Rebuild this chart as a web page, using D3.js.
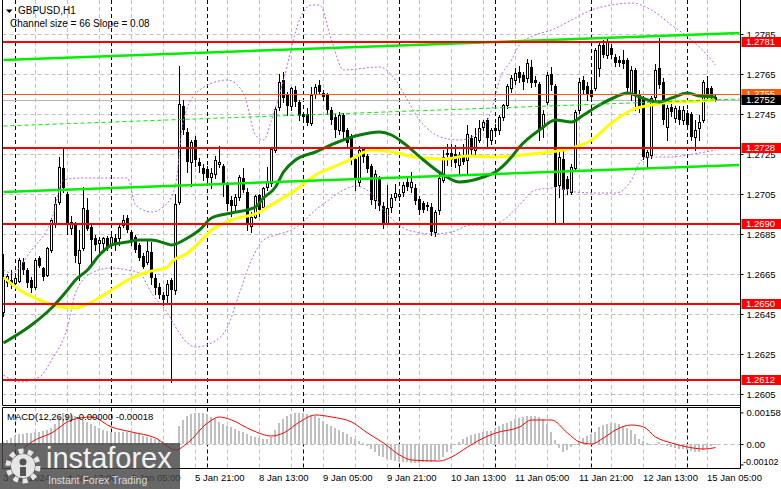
<!DOCTYPE html>
<html><head><meta charset="utf-8">
<script src="https://cdn.jsdelivr.net/npm/d3@7"></script>
<style>
html,body{margin:0;padding:0;background:#fff;}
svg{display:block;font-family:"Liberation Sans",Arial,sans-serif;}
</style></head><body>
<svg id="c" width="781" height="489"></svg>
<script>
// ---------- DATA ----------
const opens=[1.2646,1.2661,1.2662,1.26605,1.26615,1.2671,1.2667,1.2662,1.26585,1.2673,
1.2668,1.26645,1.2677,1.269,1.2701,1.2718,1.2705,1.2688,1.269,1.26705,
1.2678,1.2697,1.26885,1.2683,1.26805,1.26805,1.2683,1.268,1.2683,1.2683,
1.26895,1.2693,1.2686,1.26835,1.26795,1.2674,1.2671,1.2676,1.2663,1.26585,
1.26545,1.26545,1.2662,1.2657,1.2701,1.2749,1.2736,1.2721,1.2732,1.2721,
1.2718,1.27175,1.27135,1.2715,1.272,1.2719,1.27095,1.2702,1.26995,1.27035,
1.2713,1.2706,1.2689,1.26935,1.27045,1.26985,1.27085,1.27105,1.2727,1.27485,
1.2762,1.27545,1.2749,1.2757,1.2751,1.2745,1.2745,1.27405,1.2755,1.27595,
1.27555,1.27545,1.2747,1.27435,1.2737,1.27445,1.2737,1.27335,1.27225,1.2711,
1.27275,1.2724,1.2719,1.2702,1.2713,1.2699,1.26905,1.26985,1.27035,1.2704,
1.2706,1.2711,1.27085,1.2708,1.27025,1.27005,1.2699,1.26985,1.2686,1.2697,
1.2712,1.2725,1.27255,1.2725,1.27195,1.27245,1.2722,1.2733,1.2727,1.2732,
1.27385,1.2742,1.2732,1.2738,1.2737,1.27435,1.27495,1.2758,1.2762,1.2766,
1.27645,1.2763,1.27685,1.2762,1.276,1.27385,1.2751,1.2765,1.2759,1.27095,
1.27225,1.27125,1.2706,1.2718,1.2747,1.2762,1.2759,1.2757,1.2758,1.2768,
1.27795,1.27745,1.2778,1.27735,1.2772,1.2772,1.2772,1.2755,1.2767,1.2755,
1.27525,1.27235,1.27245,1.27535,1.2768,1.2761,1.27385,1.27485,1.2743,1.2747,
1.2742,1.27455,1.2745,1.27335,1.2738,1.2742,1.2758,1.2758,1.27535];
const highs=[1.2675,1.2665,1.2667,1.2664,1.2673,1.2673,1.2668,1.26635,1.2673,1.2674,
1.26685,1.26785,1.2693,1.27035,1.27235,1.2728,1.2706,1.2694,1.2691,1.2687,
1.27085,1.2703,1.26895,1.26845,1.26835,1.26835,1.2684,1.2685,1.2685,1.26895,
1.26945,1.26945,1.2687,1.26845,1.26805,1.26755,1.2682,1.2681,1.2665,1.26605,
1.2656,1.2662,1.2663,1.2705,1.2769,1.2752,1.2738,1.2732,1.2734,1.2723,
1.272,1.2719,1.2718,1.2724,1.2729,1.272,1.2711,1.2704,1.2705,1.27145,
1.2718,1.2708,1.2696,1.27045,1.2705,1.27085,1.27185,1.27285,1.27485,1.2765,
1.2766,1.2756,1.27585,1.2759,1.2752,1.2746,1.2748,1.27585,1.276,1.2762,
1.2757,1.27555,1.27485,1.2745,1.2746,1.27455,1.2738,1.2735,1.2724,1.2729,
1.27285,1.2725,1.272,1.2717,1.2714,1.2701,1.27095,1.2705,1.271,1.2707,
1.2711,1.2713,1.2716,1.271,1.2704,1.27015,1.2701,1.27005,1.2697,1.2715,
1.2727,1.273,1.273,1.27295,1.2726,1.273,1.27395,1.27345,1.2738,1.2742,
1.2742,1.2743,1.2738,1.274,1.27445,1.275,1.276,1.27645,1.2768,1.2769,
1.2766,1.27725,1.2772,1.2764,1.2761,1.2747,1.2766,1.27685,1.276,1.2728,
1.2727,1.2714,1.272,1.2747,1.2763,1.2764,1.2761,1.2762,1.2778,1.27805,
1.2782,1.27835,1.278,1.2775,1.2774,1.2777,1.2773,1.2769,1.2768,1.2757,
1.2754,1.2727,1.2754,1.277,1.2783,1.2763,1.27495,1.275,1.2749,1.2749,
1.2749,1.2747,1.2746,1.2742,1.27445,1.2762,1.2764,1.2759,1.27545];
const lows=[1.2644,1.2659,1.2658,1.266,1.2661,1.2665,1.26585,1.2656,1.26575,1.26685,
1.2662,1.2664,1.2676,1.26885,1.27,1.2706,1.2685,1.2685,1.2671,1.2662,
1.2677,1.2687,1.2671,1.2677,1.2675,1.2677,1.2677,1.26795,1.2677,1.26795,
1.26885,1.2686,1.26795,1.2676,1.2672,1.2668,1.267,1.266,1.2655,1.2653,
1.26495,1.2651,1.2611,1.2655,1.27,1.2735,1.2716,1.2709,1.2719,1.2716,
1.2712,1.2711,1.2708,1.2713,1.27185,1.2704,1.2697,1.2694,1.2697,1.2702,
1.2706,1.2687,1.2686,1.2693,1.2694,1.2697,1.2707,1.2709,1.2726,1.2747,
1.2751,1.27445,1.2747,1.2749,1.2742,1.2742,1.27395,1.27395,1.2753,1.2755,
1.2752,1.2745,1.274,1.27335,1.2735,1.2732,1.2728,1.272,1.2707,1.2709,
1.2721,1.2716,1.27,1.2698,1.2697,1.2688,1.269,1.2696,1.2702,1.2702,
1.2704,1.2707,1.2706,1.27,1.2695,1.2696,1.2697,1.26845,1.2684,1.2695,
1.2711,1.27195,1.2719,1.27185,1.27145,1.272,1.27145,1.2725,1.2725,1.2731,
1.2737,1.2729,1.273,1.2735,1.2735,1.2742,1.2748,1.2756,1.276,1.2761,
1.27575,1.2761,1.27585,1.2759,1.2732,1.27335,1.275,1.2757,1.269,1.27035,
1.269,1.2705,1.2705,1.2717,1.27455,1.2755,1.2752,1.2752,1.2757,1.2764,
1.27735,1.2773,1.2773,1.2769,1.2769,1.2768,1.2755,1.2752,1.2747,1.2746,
1.27225,1.2718,1.2723,1.2752,1.2758,1.274,1.2732,1.2744,1.2741,1.274,
1.274,1.2738,1.2732,1.2727,1.2732,1.2741,1.2752,1.2752,1.27515];
const closes=[1.2663,1.2664,1.26595,1.2663,1.2672,1.2667,1.26605,1.2658,1.2672,1.2669,
1.26635,1.2678,1.2692,1.27,1.27185,1.2708,1.269,1.2691,1.2674,1.2677,
1.2698,1.26875,1.2682,1.26795,1.2682,1.2683,1.2678,1.26835,1.26795,1.26885,
1.2692,1.2687,1.2682,1.2677,1.2673,1.26685,1.26765,1.2663,1.2658,1.26545,
1.2652,1.266,1.2657,1.27,1.275,1.2737,1.2721,1.2731,1.2722,1.2719,
1.2715,1.2713,1.27155,1.2722,1.2721,1.271,1.27,1.2699,1.27035,1.27135,
1.2707,1.26905,1.26935,1.2704,1.2697,1.2708,1.2711,1.27275,1.27475,1.2761,
1.2753,1.2749,1.2758,1.2751,1.2744,1.27435,1.27405,1.27545,1.27585,1.2756,
1.27535,1.2747,1.2742,1.2737,1.27445,1.2736,1.27305,1.2723,1.2712,1.2727,
1.27235,1.27175,1.2702,1.2715,1.2699,1.269,1.2698,1.2703,1.27055,1.2705,
1.27095,1.27085,1.2711,1.27015,1.2697,1.2697,1.26995,1.2686,1.2696,1.2713,
1.27235,1.27255,1.2722,1.27205,1.27245,1.2721,1.2735,1.2727,1.27335,1.2738,
1.2741,1.2733,1.2737,1.27365,1.27435,1.27495,1.2759,1.2763,1.27655,1.2763,
1.2761,1.27705,1.27605,1.27605,1.27375,1.2745,1.27645,1.27595,1.27085,1.27235,
1.2707,1.27075,1.27185,1.2746,1.2761,1.2757,1.27545,1.27535,1.2777,1.27795,
1.27745,1.2781,1.27745,1.27705,1.27705,1.277,1.2758,1.2767,1.2755,1.27485,
1.27235,1.2726,1.2753,1.2767,1.27595,1.2742,1.2748,1.2746,1.2748,1.2742,
1.2747,1.27395,1.27335,1.2737,1.2741,1.2761,1.2753,1.27535,1.2752];

// moving averages & bands as [bar index, price]
const yellowMA=[[0,1.26635],[4,1.2657],[9,1.2652],[14,1.26485],[18,1.2648],[22,1.2651],[27,1.2657],[32,1.2663],[36,1.2666],[41,1.26685],[42,1.2671],[46,1.26755],[49,1.2681],[52,1.2687],[57,1.2692],[64,1.2696],[66,1.26985],[73,1.2707],[78,1.27145],[83,1.2719],[87,1.27225],[92,1.2727],[97,1.2726],[103,1.27235],[110,1.27225],[116,1.2724],[123,1.27235],[132,1.2725],[142,1.2728],[147,1.2732],[152,1.27405],[157,1.2747],[162,1.27495],[167,1.2751],[174,1.27515],[178,1.2752]];
const greenMA=[[0,1.26305],[7,1.26395],[12,1.2648],[16,1.2657],[18,1.2662],[21,1.2667],[24,1.26745],[27,1.26795],[31,1.2681],[34,1.2682],[37,1.2682],[41,1.268],[42,1.26795],[46,1.2683],[49,1.2687],[52,1.2693],[57,1.26955],[63,1.26985],[65,1.2703],[68,1.27085],[70,1.2716],[73,1.2722],[78,1.2726],[83,1.27305],[89,1.27345],[94,1.2736],[97,1.27345],[100,1.27305],[105,1.2722],[110,1.27145],[114,1.2711],[120,1.27135],[123,1.2716],[127,1.27235],[129,1.27285],[134,1.2737],[138,1.2742],[142,1.2741],[145,1.27445],[149,1.27495],[153,1.27535],[156,1.27555],[159,1.27535],[161,1.2752],[164,1.2751],[167,1.2753],[171,1.27555],[174,1.2754],[178,1.27535]];
const upperBand=[[0,1.2667],[2,1.26655],[7,1.2677],[12,1.2692],[15,1.2712],[19,1.2713],[31,1.2713],[33,1.26995],[37,1.2696],[41,1.27005],[43,1.27095],[45,1.2742],[49,1.2757],[56,1.2762],[60,1.27555],[63,1.27345],[65,1.2732],[67,1.2742],[70,1.2762],[74,1.2792],[77,1.27995],[79,1.27995],[82,1.2782],[85,1.2767],[94,1.27685],[98,1.2762],[101,1.2752],[104,1.2742],[107,1.2736],[110,1.2733],[114,1.2732],[118,1.27345],[122,1.2747],[124,1.2762],[127,1.2772],[129,1.27795],[133,1.27845],[137,1.2787],[142,1.2792],[147,1.2797],[152,1.27995],[157,1.28005],[162,1.2797],[167,1.27895],[172,1.2782],[177,1.2772],[178,1.27695]];
const lowerBand=[[0,1.26145],[4,1.2611],[9,1.26135],[12,1.2622],[16,1.26385],[18,1.26555],[22,1.26655],[27,1.2668],[31,1.2667],[34,1.26655],[37,1.26555],[41,1.26455],[43,1.26385],[46,1.26305],[48,1.26285],[52,1.26305],[56,1.26385],[59,1.26555],[62,1.2672],[65,1.2682],[68,1.26845],[72,1.2687],[74,1.26895],[78,1.2697],[82,1.2703],[85,1.2707],[88,1.2709],[90,1.2708],[93,1.2703],[95,1.2697],[98,1.2691],[100,1.2688],[103,1.2686],[107,1.2685],[112,1.2686],[117,1.26895],[122,1.26895],[125,1.2692],[129,1.26995],[133,1.2707],[138,1.2708],[143,1.2706],[148,1.27055],[153,1.27055],[157,1.2712],[159,1.27205],[161,1.27235],[167,1.27235],[171,1.27245],[178,1.2727]];

const macdHist=[0.0001,0.0002,0.0003,0.0004,0.0005,0.0005,0.00055,0.00055,0.0006,0.0006,
0.00065,0.0007,0.0008,0.001,0.00135,0.00155,0.0015,0.00145,0.0014,0.00135,
0.0012,0.0011,0.001,0.0009,0.0008,0.0007,0.00065,0.0006,0.0006,0.0006,
0.0006,0.0006,0.00055,0.00055,0.0005,0.0004,0.00035,0.0003,0.00025,0.0002,
0.00015,0.00005,-0.00005,-0.00005,0.0009,0.0012,0.0014,0.0015,0.00155,0.00155,
0.00155,0.0015,0.00135,0.00125,0.0011,0.001,0.0009,0.00085,0.00075,0.00065,
0.0006,0.0005,0.0004,0.00035,0.0003,0.00025,0.00025,0.00035,0.0007,0.00105,
0.00125,0.0014,0.0015,0.00155,0.00155,0.00155,0.0015,0.00145,0.0014,0.0013,
0.00115,0.001,0.0009,0.0008,0.0007,0.0006,0.0005,0.00035,0.00025,0.00015,
0.00005,-0.0001,-0.00025,-0.0004,-0.0006,-0.00065,-0.00075,-0.0008,-0.00085,-0.0009,
-0.0009,-0.0009,-0.00095,-0.00095,-0.00095,-0.0009,-0.0009,-0.0009,-0.00085,-0.0008,
-0.00065,-0.0004,-0.00025,-0.00005,0.0001,0.00025,0.00035,0.00045,0.0005,0.00055,
0.0006,0.00065,0.00065,0.00075,0.0009,0.001,0.00105,0.00115,0.00125,0.0013,
0.00135,0.0014,0.0014,0.0014,0.00135,0.00125,0.001,0.0006,0.0002,-0.0002,
-0.0004,-0.0003,-0.00015,-0.00005,0.00015,0.0003,0.0004,0.0005,0.0006,0.00085,
0.00095,0.001,0.00105,0.00105,0.001,0.0009,0.0008,0.0007,0.0005,0.00025,
0.00015,0.00005,-0.00005,0,0.0001,0,-0.0001,-0.00015,-0.0002,-0.00025,
-0.00025,-0.0003,-0.00035,-0.0004,-0.0004,-0.0003,-0.0002,-0.0001,0];
const macdSignal=[[0,-0.00095],[4,-0.0004],[7,0.0001],[12,0.00055],[17,0.0012],[22,0.00135],[27,0.00085],[32,0.0006],[38,0.0003],[43,-0.0003],[46,0.00005],[51,0.00105],[54,0.00135],[57,0.0012],[62,0.0007],[67,0.0004],[70,0.00055],[74,0.0011],[78,0.00145],[82,0.00135],[87,0.0011],[91,0.00055],[95,0.00005],[99,-0.00055],[102,-0.0008],[109,-0.00085],[112,-0.00065],[116,-0.00015],[119,0.0002],[123,0.00055],[129,0.00085],[132,0.0012],[137,0.0012],[141,0.00055],[144,0.0001],[147,0],[150,0.0003],[153,0.0007],[157,0.00095],[160,0.00085],[163,0.00035],[167,0.00005],[171,-0.00015],[175,-0.00025],[178,-0.00018]];

const tickIdx=[0,16,32,48,64,80,96,112,128,144,160,176];
const tickLabels=["3 Jan 2024","4 Jan 13:00","5 Jan 05:00","5 Jan 21:00","8 Jan 13:00","9 Jan 05:00","9 Jan 21:00","10 Jan 13:00","11 Jan 05:00","11 Jan 21:00","12 Jan 13:00","15 Jan 05:00"];
const dayStarts=[3,27,51,75,99,123,147,171];
const priceTicks=[1.2605,1.2625,1.2645,1.2665,1.2685,1.2705,1.2725,1.2745,1.2765,1.2785];
const levels=[1.2781,1.2728,1.2690,1.2650,1.2612];
const orangeLevel=1.2755, bidPrice=1.2752;
const channelUpper=[[0,1.2772],[184,1.27855]], channelSize=0.0066;
const macdTicks=[0.00158,0,-0.00102], macdTickLabels=["0.00158","0.00","-0.00102"];

// ---------- LAYOUT ----------
const svg=d3.select("#c");
const L=2.5,R=740.5,mainBot=405.5,mTop=407.5,mBot=468.5;
const x=d3.scaleLinear().domain([0,184]).range([3.5,739.5]);
const y=d3.scaleLinear().domain([1.2605,1.2785]).range([394,34]);
const my=d3.scaleLinear().domain([-0.00102,0.00158]).range([464.4,412.4]);
const defs=svg.append("defs");
defs.append("clipPath").attr("id","cm").append("rect").attr("x",L).attr("y",0).attr("width",R-L).attr("height",mainBot);
defs.append("clipPath").attr("id","cd").append("rect").attr("x",L).attr("y",mTop).attr("width",R-L).attr("height",mBot-mTop);

const gm=svg.append("g").attr("clip-path","url(#cm)");
const gd=svg.append("g").attr("clip-path","url(#cd)");

// grids
gm.selectAll(".hg").data(priceTicks).join("line").attr("x1",L).attr("x2",R)
 .attr("y1",d=>Math.round(y(d))+0.5).attr("y2",d=>Math.round(y(d))+0.5)
 .attr("stroke","#c0c0c0").attr("stroke-dasharray","4,3");
const vgrid=d3.range(8,184,8);
[gm,gd].forEach((g,k)=>{
  const y0=k?mTop:0,y1=k?mBot:mainBot;
  g.selectAll(".vg").data(vgrid).join("line").attr("x1",d=>x(d)).attr("x2",d=>x(d))
   .attr("y1",y0).attr("y2",y1).attr("stroke","#c0c0c0").attr("stroke-dasharray","4,3");
  g.selectAll(".ds").data(dayStarts).join("line").attr("x1",d=>x(d)).attr("x2",d=>x(d))
   .attr("y1",y0).attr("y2",y1).attr("stroke","#000").attr("stroke-dasharray","4,3");
});

// bid line behind
gm.append("line").attr("x1",L).attr("x2",R).attr("y1",y(bidPrice)+0.5).attr("y2",y(bidPrice)+0.5).attr("stroke","#b8b8b8");

// candles
const bars=d3.range(opens.length).map(i=>({i,o:opens[i],h:highs[i],l:lows[i],c:closes[i]}));
const cg=gm.append("g").attr("shape-rendering","crispEdges");
cg.selectAll(".w").data(bars).join("line")
 .attr("x1",d=>x(d.i)).attr("x2",d=>x(d.i))
 .attr("y1",d=>y(Math.max(d.h,d.o,d.c))).attr("y2",d=>y(Math.min(d.l,d.o,d.c))+1)
 .attr("stroke","#000");
cg.selectAll(".b").data(bars).join("rect")
 .attr("x",d=>d.c>=d.o? x(d.i)-1 : x(d.i)-1.5)
 .attr("width",d=>d.c>=d.o?2:3)
 .attr("y",d=>y(Math.max(d.o,d.c)))
 .attr("height",d=>Math.max(1,Math.abs(y(d.o)-y(d.c))))
 .attr("fill",d=>d.c>=d.o?"#fff":"#000")
 .attr("stroke",d=>d.c>=d.o?"#000":"none");

// bands
const ln=d3.line().x(d=>x(d[0])).y(d=>y(d[1])).curve(d3.curveMonotoneX);
[upperBand,lowerBand].forEach(b=>gm.append("path").attr("d",ln(b)).attr("fill","none")
 .attr("stroke","#b86ae6").attr("stroke-width",1).attr("stroke-dasharray","2,2"));
// MAs
gm.append("path").attr("d",ln(yellowMA)).attr("fill","none").attr("stroke","#ffff00").attr("stroke-width",3);
gm.append("path").attr("d",ln(greenMA)).attr("fill","none").attr("stroke","#0b7a0b").attr("stroke-width",3);

// channel
const lnS=d3.line().x(d=>x(d[0])).y(d=>y(d[1]));
const shift=(pts,s)=>pts.map(p=>[p[0],p[1]-s]);
gm.append("path").attr("d",lnS(channelUpper)).attr("stroke","#00f000").attr("stroke-width",2.5).attr("fill","none");
gm.append("path").attr("d",lnS(shift(channelUpper,channelSize/2))).attr("stroke","#00f000").attr("stroke-width",1).attr("stroke-dasharray","4,3").attr("fill","none");
gm.append("path").attr("d",lnS(shift(channelUpper,channelSize))).attr("stroke","#00f000").attr("stroke-width",2.5).attr("fill","none");

// levels
gm.selectAll(".lv").data(levels).join("line").attr("x1",L).attr("x2",R)
 .attr("y1",d=>y(d)).attr("y2",d=>y(d)).attr("stroke","#ff0000").attr("stroke-width",2);
gm.append("line").attr("x1",L).attr("x2",R).attr("y1",y(orangeLevel)+0.5).attr("y2",y(orangeLevel)+0.5).attr("stroke","#ff5a00");

// MACD panel
gd.append("line").attr("x1",L).attr("x2",R).attr("y1",my(0)+0.5).attr("y2",my(0)+0.5).attr("stroke","#b8b8b8").attr("stroke-dasharray","4,3");
gd.append("g").attr("shape-rendering","crispEdges").selectAll("rect").data(macdHist).join("rect")
 .attr("x",(d,i)=>x(i)-1.5).attr("width",2)
 .attr("y",d=>Math.min(my(d),my(0))).attr("height",d=>Math.max(0.5,Math.abs(my(d)-my(0))))
 .attr("fill","#c0c0c0");
gd.append("path").attr("d",d3.line().x(d=>x(d[0])).y(d=>my(d[1])).curve(d3.curveMonotoneX)(macdSignal))
 .attr("fill","none").attr("stroke","#ff0000").attr("stroke-width",1);

// borders
svg.append("path").attr("d",`M${L},0V${mainBot}H${R}M${L},${mTop}H${R}V${mBot}H${L}Z M${R},0V${mBot}`)
 .attr("fill","none").attr("stroke","#000");

// axes
const fs="9.5px";
const ax=svg.append("g").attr("transform",`translate(${R},0)`)
 .call(d3.axisRight(y).tickValues(priceTicks).tickSize(3).tickPadding(3).tickFormat(d3.format(".4f")));
ax.select(".domain").remove();
ax.selectAll("text").attr("font-size",fs).attr("font-family","Liberation Sans, Arial").attr("fill","#000");
const axm=svg.append("g").attr("transform",`translate(${R},0)`)
 .call(d3.axisRight(my).tickValues(macdTicks).tickSize(3).tickPadding(3).tickFormat((d,k)=>macdTickLabels[k]));
axm.select(".domain").remove();
axm.selectAll("text").attr("font-size",fs).attr("font-family","Liberation Sans, Arial").attr("fill","#000");
axm.selectAll("text").filter(d=>d<0).attr("x",2.5).attr("dy","0.05em").attr("font-size","9px");
const axb=svg.append("g").attr("transform",`translate(0,${mBot-0.5})`)
 .call(d3.axisBottom(x).tickValues(tickIdx).tickSize(0).tickPadding(6).tickFormat((d,k)=>tickLabels[k]));
axb.select(".domain").remove();
axb.selectAll("text").attr("text-anchor","start").attr("dx",-1).attr("font-size",fs).attr("font-family","Liberation Sans, Arial").attr("fill","#000");

// price labels on the right
function tag(p,bg,txt){
  const cy=y(p);
  svg.append("rect").attr("x",R+1).attr("y",cy-5).attr("width",781-R).attr("height",10).attr("fill",bg);
  svg.append("text").attr("x",746).attr("y",cy).attr("dy","0.35em").attr("font-size",fs).attr("fill","#fff").text(txt);
}
levels.forEach(p=>tag(p,"#ff0000",d3.format(".4f")(p)));
tag(orangeLevel,"#ff5a00",d3.format(".4f")(orangeLevel));
tag(bidPrice,"#000",d3.format(".4f")(bidPrice));

// titles
svg.append("path").attr("d","M6,9.5L12.5,9.5L9.25,13Z").attr("fill","#000");
svg.append("text").attr("x",18).attr("y",14).attr("font-size","10px").text("GBPUSD,H1");
svg.append("text").attr("x",10).attr("y",26.5).attr("font-size","10px").text("Channel size = 66 Slope = 0.08");
svg.append("text").attr("x",7).attr("y",419.5).attr("font-size",fs).text("MACD(12,26,9) -0.00000 -0.00018");

// watermark
const wm=svg.append("g");
wm.append("rect").attr("x",0).attr("y",443).attr("width",180).attr("height",46).attr("fill","rgba(70,70,70,0.82)");
wm.append("circle").attr("cx",23).attr("cy",466).attr("r",15).attr("fill","none").attr("stroke","#e6e6e6").attr("stroke-width",5).attr("stroke-dasharray","5,4.4");
wm.append("circle").attr("cx",23).attr("cy",466).attr("r",12).attr("fill","#e6e6e6");
wm.append("circle").attr("cx",23).attr("cy",462).attr("r",3.5).attr("fill","#555");
wm.append("rect").attr("x",20).attr("y",467).attr("width",6).attr("height",9).attr("fill","#555");
wm.append("text").attr("x",46).attr("y",468).attr("font-size","29px").attr("fill","#f2f2f2").text("instaforex");
wm.append("text").attr("x",48).attr("y",484).attr("font-size","10.5px").attr("fill","#dcdcdc").text("Instant Forex Trading");
</script>
</body></html>
